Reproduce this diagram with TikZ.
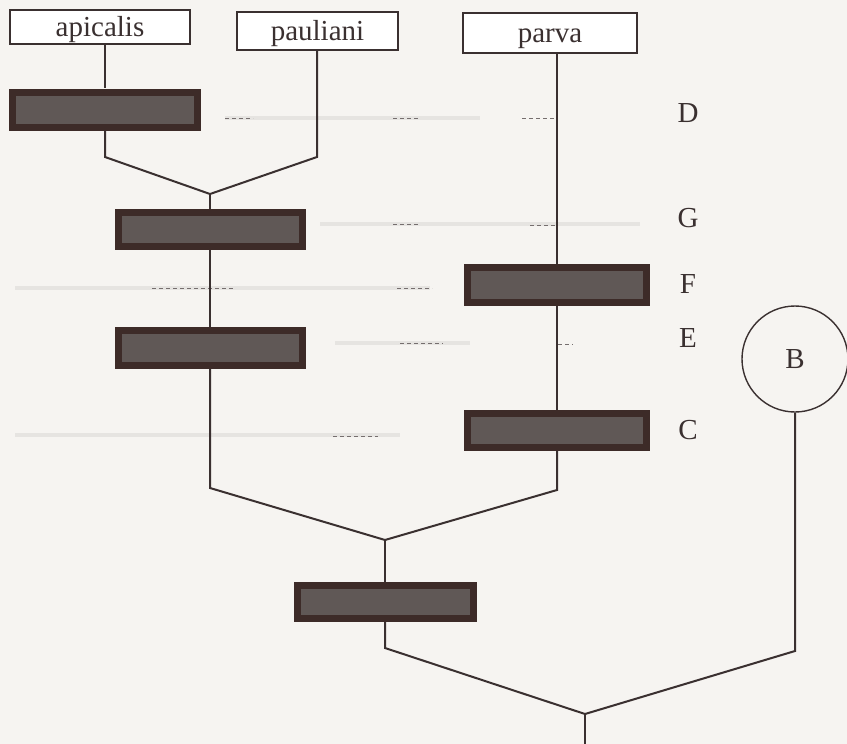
\documentclass[tikz,border=0pt]{standalone}
\usepackage{fontspec}
\setmainfont{Liberation Serif}
\definecolor{bg}{HTML}{F6F4F1}
\definecolor{ink}{HTML}{3A3030}
\definecolor{barout}{HTML}{3D2B28}
\definecolor{barin}{HTML}{605856}
\definecolor{band}{HTML}{E6E4E1}
\begin{document}
\begin{tikzpicture}[x=1pt,y=-1pt,
  every node/.style={font=\fontsize{29}{32}\selectfont, text=ink, inner sep=0pt},
  namebox/.style={draw=ink, line width=1.4pt, fill=white, rectangle, text height=20pt, text depth=2pt},
  darkbar/.style={rectangle, fill=barout, minimum height=41pt,
    path picture={\fill[barin] ([shift={(7pt,-7pt)}]path picture bounding box.north west) rectangle ([shift={(-7pt,7pt)}]path picture bounding box.south east);}},
  link/.style={draw=ink, line width=2pt, line join=miter},
  remnant/.style={draw=ink!70, line width=0.8pt, dash pattern=on 4pt off 3pt},
  faint/.style={draw=band, line width=4pt},
  rowlabel/.style={anchor=center}]
\useasboundingbox (0,0) rectangle (847,744);
\fill[bg] (0,0) rectangle (847,744);

% faint bands
\draw[faint] (225,118) -- (480,118);
\draw[faint] (320,224) -- (640,224);
\draw[faint] (15,288) -- (430,288);
\draw[faint] (335,343) -- (470,343);
\draw[faint] (15,435) -- (400,435);

% dashed remnants
\draw[remnant] (225,118) -- (253,118);
\draw[remnant] (393,118) -- (420,118);
\draw[remnant] (522,118) -- (557,118);
\draw[remnant] (393,224) -- (420,224);
\draw[remnant] (530,225) -- (557,225);
\draw[remnant] (152,288) -- (233,288);
\draw[remnant] (397,288) -- (432,288);
\draw[remnant] (400,343) -- (443,343);
\draw[remnant] (558,344) -- (573,344);
\draw[remnant] (333,436) -- (378,436);

% name boxes
\node[namebox, minimum width=180pt, minimum height=34pt] (apicalis) at (100,27) {apicalis};
\node[namebox, minimum width=161pt, minimum height=38pt] (pauliani) at (317.5,31) {pauliani};
\node[namebox, minimum width=174pt, minimum height=40pt] (parva) at (550,33) {parva};

% dark bars
\node[darkbar, minimum width=192pt, minimum height=42pt] (barD) at (105,109.5) {};
\node[darkbar, minimum width=191pt] (barG) at (210,229.5) {};
\node[darkbar, minimum width=191pt, minimum height=42pt] (barE) at (210,348) {};
\node[darkbar, minimum width=186pt, minimum height=42pt] (barF) at (557,285) {};
\node[darkbar, minimum width=186pt] (barC) at (557,430.5) {};
\node[darkbar, minimum width=183pt, minimum height=40pt] (barB) at (385,602) {};

% labels
\node[rowlabel] (lD) at (688,113) {D};
\node[rowlabel] (lG) at (688,218) {G};
\node[rowlabel] (lF) at (688,284) {F};
\node[rowlabel] (lE) at (688,338) {E};
\node[rowlabel] (lC) at (688,430) {C};

% circle B
\node[circle, draw=ink, line width=1.4pt, minimum size=106pt] (B) at (795,359) {B};

% joints
\coordinate (c1) at (105,157);
\coordinate (c2) at (317,157);
\coordinate (j1) at (210,194);
\coordinate (c3) at (210,488);
\coordinate (c4) at (557,490);
\coordinate (j2) at (385,540);
\coordinate (c5) at (385,648);
\coordinate (c6) at (795,651);
\coordinate (j3) at (585,714);
\coordinate (root) at (585,744);

% connectors
\draw[link] (apicalis.south -| barD.north) -- (barD.north);
\draw[link] (barD.south) -- (c1) -- (j1) -- (c2) -- (pauliani.south -| c2);
\draw[link] (j1) -- (barG.north);
\draw[link] (barG.south) -- (barE.north);
\draw[link] (parva.south -| barF.north) -- (barF.north);
\draw[link] (barF.south) -- (barC.north);
\draw[link] (barE.south) -- (c3) -- (j2) -- (c4) -- (barC.south);
\draw[link] (j2) -- (barB.north);
\draw[link] (barB.south) -- (c5) -- (j3) -- (c6) -- (B.south);
\draw[link] (j3) -- (root);
\end{tikzpicture}
\end{document}
